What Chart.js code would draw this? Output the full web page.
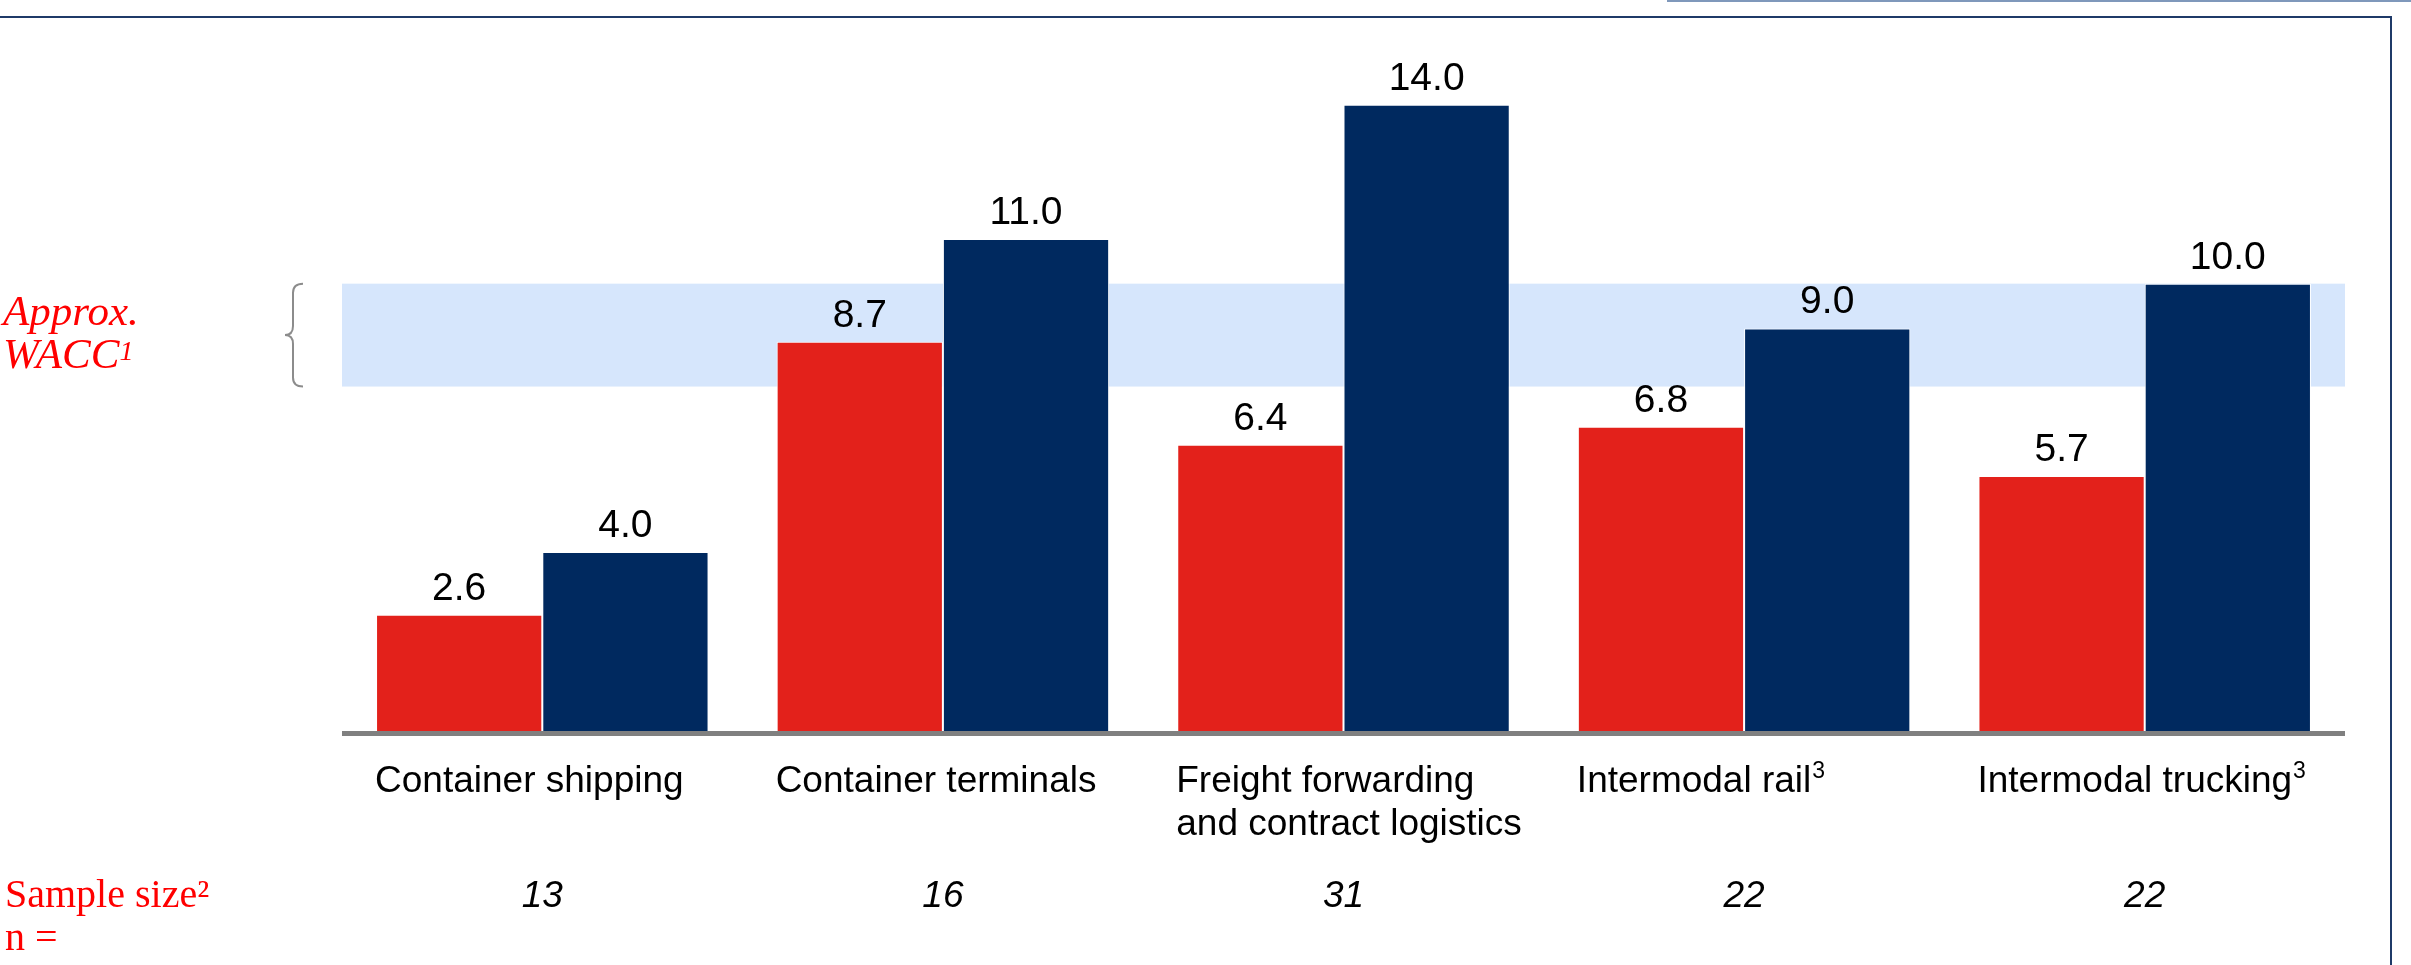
<!DOCTYPE html>
<html>
<head>
<meta charset="utf-8">
<script src="https://cdn.jsdelivr.net/npm/chart.js@4.4.1/dist/chart.umd.min.js"></script>
<style>
  html, body { margin: 0; padding: 0; background: #ffffff; }
  canvas { display: block; }
</style>
</head>
<body>
<canvas id="chart" width="2411" height="965"></canvas>
<script>
// Categories (multi-line labels as arrays; a trailing "³" marks a footnote)
const categories = [
  ['Container shipping'],
  ['Container terminals'],
  ['Freight forwarding', 'and contract logistics'],
  ['Intermodal rail³'],
  ['Intermodal trucking³']
];
// Two value series per category
const valuesRed  = [2.6, 8.7, 6.4, 6.8, 5.7];
const valuesNavy = [4.0, 11.0, 14.0, 9.0, 10.0];
// Sample size per category
const sampleSizes = ['13', '16', '31', '22', '22'];
// Approximate WACC range shown as a shaded band
const waccBand = [7.7, 10.0];
// Value axis range
const yRange = [0, 15];

const SANS = "'Liberation Sans', Arial, sans-serif";
const SERIF = "'Liberation Serif', 'Times New Roman', serif";
const RED_TEXT = '#ff0000';

// Draw text with a trailing footnote digit as a raised, smaller "3"
function drawLabel(ctx, text, x, y, size) {
  const sup = text.endsWith('³');
  const body = sup ? text.slice(0, -1) : text;
  ctx.font = `${size}px ${SANS}`;
  ctx.fillText(body, x, y);
  if (sup) {
    const w = ctx.measureText(body).width;
    ctx.font = `${Math.round(size * 0.62)}px ${SANS}`;
    ctx.fillText('3', x + w + 1, y - size * 0.38);
  }
}

const overlay = {
  id: 'overlay',
  beforeDatasetsDraw(chart) {
    const { ctx, chartArea, scales: { y } } = chart;
    const top = y.getPixelForValue(waccBand[1]);
    const bot = y.getPixelForValue(waccBand[0]);
    ctx.save();
    // WACC band
    ctx.fillStyle = '#d6e6fc';
    ctx.fillRect(chartArea.left, top, chartArea.right - chartArea.left, bot - top);

    // curly brace next to the band
    const xs = 293, xe = 303, xt = 285, mid = (top + bot) / 2, r = 9;
    ctx.strokeStyle = '#8c8c8c';
    ctx.lineWidth = 2;
    ctx.beginPath();
    ctx.moveTo(xe, top);
    ctx.quadraticCurveTo(xs, top, xs, top + r);
    ctx.lineTo(xs, mid - r);
    ctx.quadraticCurveTo(xs, mid, xt, mid);
    ctx.quadraticCurveTo(xs, mid, xs, mid + r);
    ctx.lineTo(xs, bot - r);
    ctx.quadraticCurveTo(xs, bot, xe, bot);
    ctx.stroke();
    ctx.restore();
  },
  afterDatasetsDraw(chart) {
    const { ctx, chartArea, scales: { x, y } } = chart;
    const y0 = y.getPixelForValue(0);
    ctx.save();

    // baseline
    ctx.fillStyle = '#808080';
    ctx.fillRect(chartArea.left, y0, chartArea.right - chartArea.left, 5);

    // value labels above the bars
    ctx.fillStyle = '#000000';
    ctx.font = `39px ${SANS}`;
    ctx.textAlign = 'center';
    ctx.textBaseline = 'alphabetic';
    chart.data.datasets.forEach((ds, di) => {
      chart.getDatasetMeta(di).data.forEach((bar, i) => {
        ctx.fillText(ds.data[i].toFixed(1), bar.x, bar.y - 15);
      });
    });

    // category labels, left-aligned with the first bar of each group
    ctx.textAlign = 'left';
    const first = chart.getDatasetMeta(0).data;
    categories.forEach((lines, i) => {
      const left = first[i].x - first[i].width / 2;
      lines.forEach((line, li) => {
        drawLabel(ctx, line, left - 1, y0 + 61 + li * 43, 37);
      });
    });

    // sample sizes
    ctx.font = `italic 37px ${SANS}`;
    ctx.textAlign = 'center';
    sampleSizes.forEach((n, i) => {
      ctx.fillText(n, x.getPixelForValue(i), y0 + 176);
    });

    // left-hand labels
    ctx.fillStyle = RED_TEXT;
    ctx.textAlign = 'left';
    ctx.font = `italic 43px ${SERIF}`;
    ctx.fillText('Approx.', 3, 325);
    ctx.fillText('WACC', 3, 368);
    const ww = ctx.measureText('WACC').width;
    ctx.font = `italic 28px ${SERIF}`;
    ctx.fillText('1', 3 + ww, 360);
    ctx.font = `40px ${SERIF}`;
    ctx.fillText('Sample size²', 5, y0 + 176);
    ctx.fillText('n =', 5, y0 + 219);

    // frame lines
    ctx.fillStyle = '#7f98bb';
    ctx.fillRect(1667, 0, 2411 - 1667, 2);
    ctx.fillStyle = '#1f3a68';
    ctx.fillRect(0, 16, 2392, 2);
    ctx.fillRect(2390, 16, 2, 965 - 16);
    ctx.restore();
  }
};

new Chart(document.getElementById('chart'), {
  type: 'bar',
  data: {
    labels: categories,
    datasets: [
      {
        label: 'Red series',
        data: valuesRed,
        backgroundColor: '#e3211b',
        borderColor: '#ffffff',
        borderWidth: 1
      },
      {
        label: 'Navy series',
        data: valuesNavy,
        backgroundColor: '#00295f',
        borderColor: '#ffffff',
        borderWidth: 1
      }
    ]
  },
  options: {
    responsive: false,
    animation: false,
    devicePixelRatio: 1,
    layout: { padding: { left: 342, right: 66, top: 60, bottom: 234 } },
    datasets: { bar: { categoryPercentage: 0.83, barPercentage: 1.0 } },
    plugins: { legend: { display: false }, tooltip: { enabled: false } },
    scales: {
      x: { display: false },
      y: { display: false, min: yRange[0], max: yRange[1] }
    }
  },
  plugins: [overlay]
});
</script>
</body>
</html>
